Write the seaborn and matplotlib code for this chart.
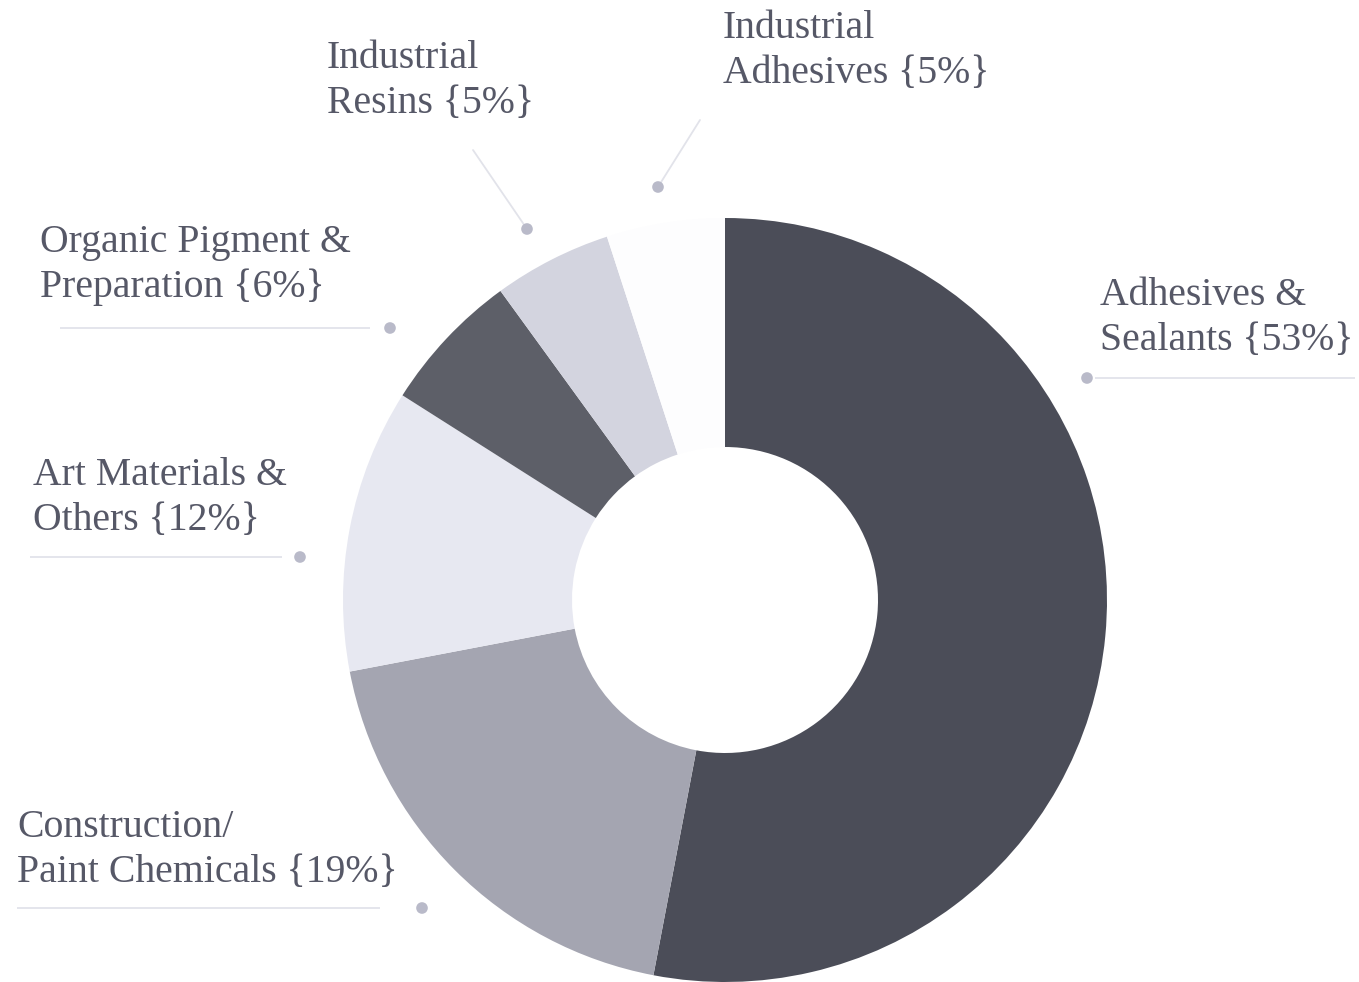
import matplotlib
matplotlib.use("Agg")
import matplotlib.pyplot as plt
import seaborn as sns

# Market share by application segment
categories = [
    "Adhesives &\nSealants",
    "Construction/\nPaint Chemicals",
    "Art Materials &\nOthers",
    "Organic Pigment &\nPreparation",
    "Industrial\nResins",
    "Industrial\nAdhesives",
]
shares = [53, 19, 12, 6, 5, 5]
colors = ["#4b4d58", "#a4a5b1", "#e7e8f1", "#5d5f68", "#d3d4df", "#fdfdfe"]

sns.set_theme(style="white")
plt.rcParams["font.family"] = ["Liberation Serif", "DejaVu Serif"]

W, H = 1359, 982
fig = plt.figure(figsize=(W / 100, H / 100), dpi=100)
ax = fig.add_axes([0, 0, 1, 1])

# donut geometry in pixel units (y measured from the bottom)
cx, cy = 725, H - 600
r_out, r_in = 382, 153

ax.pie(
    shares,
    colors=colors,
    startangle=90,
    counterclock=False,
    radius=r_out,
    center=(cx, cy),
    frame=True,
    wedgeprops=dict(width=r_out - r_in, linewidth=0),
)
ax.set_xlim(0, W)
ax.set_ylim(0, H)
ax.set_aspect("equal")
ax.axis("off")

text_color = "#565867"
rule_color = "#e2e3ea"
dot_color = "#b9bac9"
fs = 28.6

# label layout: (left x, first baseline y) in pixels from top
label_pos = [(1100, 305), (17, 837), (33, 485), (40, 252), (327, 68), (723, 38)]
line_gap = 45
# underline: (x0, x1, y) or None
rules = [(1095, 1355, 378), (17, 380, 908), (30, 282, 557), (60, 370, 328), None, None]
dots = [(1087, 378), (422, 908), (300, 557), (390, 328), (527, 229), (658, 187)]
leaders = [None, None, None, None, ((473, 150), (527, 229)), ((700, 120), (658, 187))]

for name, pct, (lx, ly), rule, dot, lead in zip(categories, shares, label_pos, rules, dots, leaders):
    first, second = name.split("\n")
    ax.text(lx, H - ly, first, fontsize=fs, color=text_color, ha="left", va="baseline")
    ax.text(lx, H - ly - line_gap, f"{second} {{{pct}%}}", fontsize=fs, color=text_color,
            ha="left", va="baseline")
    if rule is not None:
        x0, x1, ry = rule
        ax.plot([x0, x1], [H - ry, H - ry], color=rule_color, lw=1.3, solid_capstyle="butt")
    if lead is not None:
        (ax0, ay0), (ax1, ay1) = lead
        ax.plot([ax0, ax1], [H - ay0, H - ay1], color=rule_color, lw=1.3)
    ax.scatter([dot[0]], [H - dot[1]], s=70, color=dot_color, edgecolors="none", zorder=5)

fig.savefig("out.png", dpi=100, facecolor="white")
